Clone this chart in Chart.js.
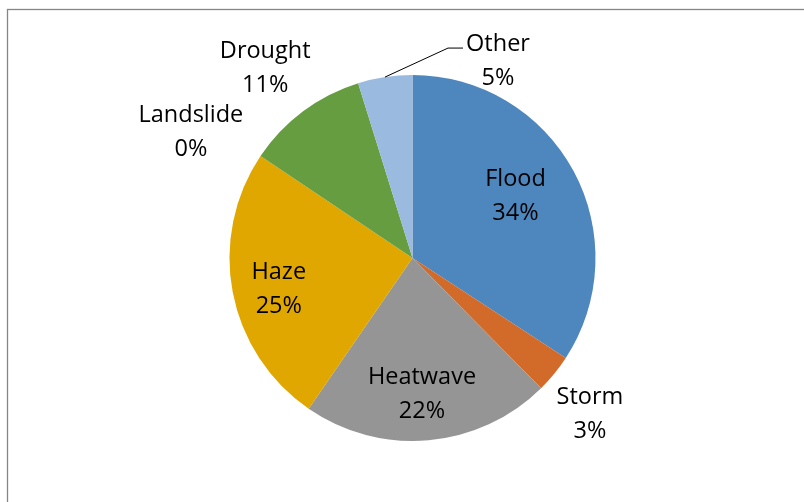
<!DOCTYPE html>
<html>
<head>
<meta charset="utf-8">
<script src="https://cdn.jsdelivr.net/npm/chart.js@4/dist/chart.umd.min.js"></script>
<style>
  html, body { margin: 0; padding: 0; background: #ffffff; }
  canvas { display: block; }
</style>
</head>
<body>
<canvas id="c" width="804" height="502"></canvas>
<script>
// ---- data ----
const categories = ["Flood", "Storm", "Heatwave", "Haze", "Landslide", "Drought", "Other"];
const values = [34.2, 3.4, 22.0, 24.8, 0, 10.8, 4.8];
const colors = ["#4E86BE", "#D26B29", "#959595", "#E0A700", "#4472C4", "#669D41", "#9BBAE0"];

// label placement: [radius factor, dx, dy, leader]
const labelPlacement = [
  [0.65, -1.6, -5.3, false],
  [1.2, 7.4, 17.6, false],
  [0.74, -2.4, 1.6, false],
  [0.74, -0.7, 6.3, false],
  [1.3, -24, 7, false],
  [1.2, -16, -14, false],
  [1.0, 0, 0, true]
];

const frameAndLabels = {
  id: 'frameAndLabels',
  beforeDraw(chart) {
    const ctx = chart.ctx;
    ctx.save();
    ctx.strokeStyle = '#868686';
    ctx.lineWidth = 1.3;
    ctx.strokeRect(7.5, 9.5, 1000, 1000);
    ctx.restore();
  },
  afterDatasetsDraw(chart) {
    const ctx = chart.ctx;
    const meta = chart.getDatasetMeta(0);
    const data = chart.data.datasets[0].data;
    const total = data.reduce((a, b) => a + b, 0);
    ctx.save();
    ctx.font = '23.5px "Open Sans"';
    ctx.fillStyle = '#000000';
    ctx.textAlign = 'center';
    ctx.textBaseline = 'middle';
    meta.data.forEach((arc, i) => {
      const p = arc.getProps(['x', 'y', 'startAngle', 'endAngle', 'outerRadius'], true);
      const mid = (p.startAngle + p.endAngle) / 2;
      const pl = labelPlacement[i];
      const r = p.outerRadius * pl[0];
      let x = p.x + Math.cos(mid) * r;
      let y = p.y + Math.sin(mid) * r;
      const pct = Math.round(data[i] / total * 100) + '%';
      if (pl[3]) {
        const ex = x + 63, ey = y - 29;
        ctx.strokeStyle = '#000000';
        ctx.lineWidth = 1;
        ctx.beginPath();
        ctx.moveTo(x, y);
        ctx.lineTo(ex, ey);
        ctx.lineTo(ex + 15, ey);
        ctx.stroke();
        x = ex + 50;
        y = ey + 13;
      } else {
        x += pl[1];
        y += pl[2];
      }
      ctx.fillText(categories[i], x, y - 17);
      ctx.fillText(pct, x, y + 17);
    });
    ctx.restore();
  }
};

new Chart(document.getElementById('c'), {
  type: 'pie',
  data: {
    labels: categories,
    datasets: [{
      data: values,
      backgroundColor: colors,
      borderWidth: 0
    }]
  },
  options: {
    responsive: false,
    animation: false,
    layout: { padding: { left: 229, right: 208, top: 75, bottom: 61 } },
    plugins: {
      legend: { display: false },
      tooltip: { enabled: false }
    }
  },
  plugins: [frameAndLabels]
});
</script>
</body>
</html>
